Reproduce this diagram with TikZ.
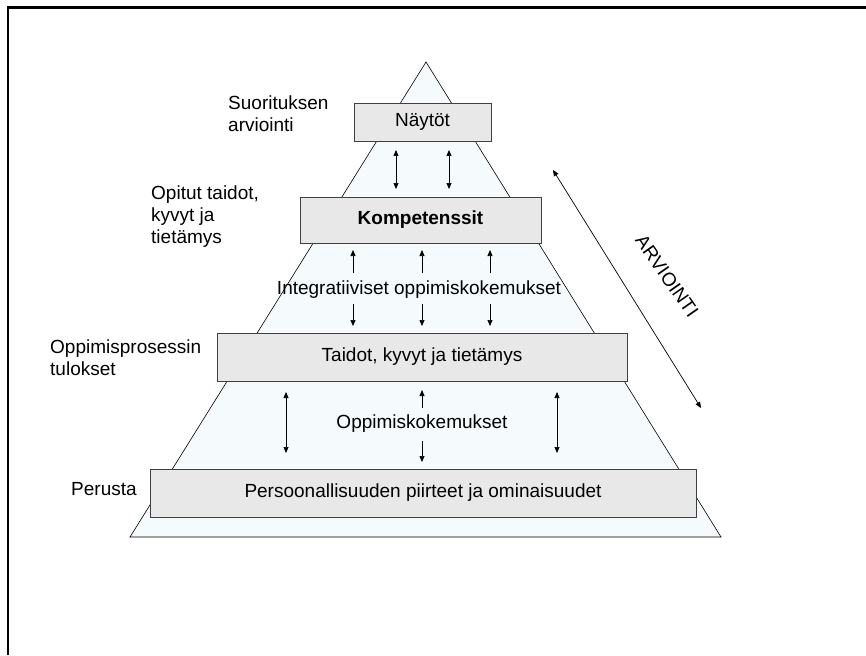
\documentclass[tikz,border=0pt]{standalone}
\usepackage{fontspec}
\setmainfont{Liberation Sans}
\usetikzlibrary{arrows.meta}
\definecolor{boxfill}{RGB}{232,232,232}
\definecolor{trifill}{RGB}{245,250,252}
\begin{document}
\begin{tikzpicture}[x=1pt,y=-1pt,
  font=\fontsize{19}{22}\selectfont,
  box/.style={draw=black!75, fill=boxfill, line width=0.8pt, inner sep=0pt},
  tip/.tip={Triangle[length=6pt,width=5pt]},
  arr/.style={-tip, line width=0.7pt},
  darr/.style={tip-tip, line width=0.7pt},
  lbl/.style={align=left, anchor=west, inner sep=0pt}]
\useasboundingbox (0,0) rectangle (866,655);
\draw[line width=2.5pt] (8,655) -- (8,7.5) -- (866,7.5);
% pyramid
\coordinate (apex) at (426,62);
\coordinate (bl) at (130,537);
\coordinate (br) at (721,537);
\draw[fill=trifill, line width=0.6pt] (apex) -- (br) -- (bl) -- cycle;
% boxes
\node[box, minimum width=137pt, minimum height=38pt] (nayt) at (422.5,122) {Näytöt};
\node[box, minimum width=241pt, minimum height=46pt] (komp) at (420.5,220) {\bfseries Kompetenssit};
\node[box, minimum width=410pt, minimum height=48pt] (taid) at (422,357) {Taidot, kyvyt ja tietämys};
\node[box, minimum width=546pt, minimum height=48pt] (pers) at (423,493) {Persoonallisuuden piirteet ja ominaisuudet};
% inner texts
\node[inner sep=0pt] (integ) at (419,290) {Integratiiviset oppimiskokemukset};
\node[inner sep=0pt] (oppk) at (422,424) {Oppimiskokemukset};
% arrows Näytöt - Kompetenssit
\coordinate (a1t) at (396,150); \coordinate (a1b) at (396,189);
\coordinate (a2t) at (449,150); \coordinate (a2b) at (449,189);
\draw[darr] (a1t) -- (a1b);
\draw[darr] (a2t) -- (a2b);
% arrows around integrative text
\foreach \i/\x in {1/353,2/422,3/490}{
  \coordinate (u\i h) at (\x,250); \coordinate (u\i t) at (\x,273);
  \coordinate (d\i t) at (\x,304); \coordinate (d\i h) at (\x,326);
  \draw[arr] (u\i t) -- (u\i h);
  \draw[arr] (d\i t) -- (d\i h);
}
% arrows around Oppimiskokemukset
\coordinate (l1t) at (286,392); \coordinate (l1b) at (286,453);
\coordinate (r1t) at (557,392); \coordinate (r1b) at (557,453);
\draw[darr] (l1t) -- (l1b);
\draw[darr] (r1t) -- (r1b);
\coordinate (cut) at (422,408); \coordinate (cuh) at (422,390);
\coordinate (cdt) at (422,441); \coordinate (cdh) at (422,462);
\draw[arr] (cut) -- (cuh);
\draw[arr] (cdt) -- (cdh);
% ARVIOINTI
\coordinate (av1) at (553,170);
\coordinate (av2) at (701,408);
\draw[darr] (av1) -- (av2);
\node[inner sep=0pt, rotate=-55] (arv) at (667,276) {ARVIOINTI};
% left labels
\node[lbl] (suor) at (228,114) {Suorituksen\\arviointi};
\node[lbl] (opit) at (151,217) {Opitut taidot,\\kyvyt ja\\tietämys};
\node[lbl] (oppr) at (50,358) {Oppimisprosessin\\tulokset};
\node[lbl] (peru) at (71,489) {Perusta};
\end{tikzpicture}
\end{document}
